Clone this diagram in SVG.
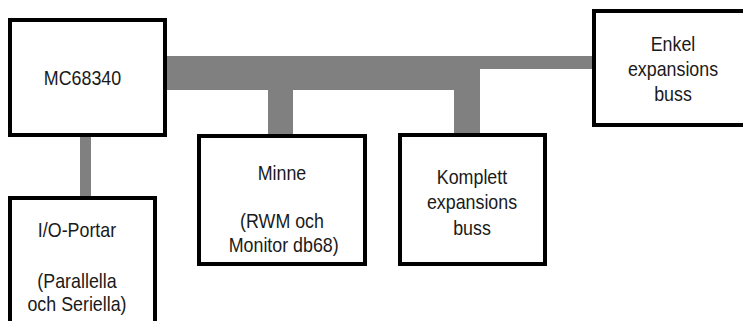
<svg xmlns="http://www.w3.org/2000/svg" width="743" height="321" viewBox="0 0 743 321">
<style>
.box{fill:#fff;stroke:#000;stroke-width:4}
.bus{fill:#808080;stroke:none}
text{font-family:"Liberation Sans",Arial,sans-serif;font-size:21px;fill:#1a1a1a;text-anchor:middle}
</style>
<rect width="743" height="321" fill="#fff"/>
<g id="connectors">
<path class="bus" d="M167,56 H594 V69 H480 V135 H454 V90 H293 V136 H268 V90 H167 Z"/>
<rect class="bus" x="80" y="137" width="11" height="61"/>
</g>
<g id="mc68340">
<rect class="box" x="10" y="20" width="155" height="115"/>
<g transform="matrix(0.85 0 0 1 82.5 0)"><text x="0" y="85">MC68340</text></g>
</g>
<g id="enkel">
<rect class="box" x="594" y="11" width="158" height="114"/>
<g transform="matrix(0.85 0 0 1 673 0)">
<text x="0" y="51">Enkel</text>
<text x="0" y="76">expansions</text>
<text x="0" y="101">buss</text>
</g>
</g>
<g id="minne">
<rect class="box" x="199" y="136" width="166" height="128"/>
<g transform="matrix(0.85 0 0 1 282 0)">
<text x="0" y="180">Minne</text>
<text x="0" y="228">(RWM och</text>
<text x="2" y="252">Monitor db68)</text>
</g>
</g>
<g id="komplett">
<rect class="box" x="400" y="135" width="145" height="129"/>
<g transform="matrix(0.85 0 0 1 472 0)">
<text x="0" y="184">Komplett</text>
<text x="0" y="209.5">expansions</text>
<text x="0" y="235">buss</text>
</g>
</g>
<g id="io">
<rect class="box" x="10" y="198" width="145" height="140"/>
<g transform="matrix(0.85 0 0 1 77 0)">
<text x="0" y="237">I/O-Portar</text>
<text x="0" y="288">(Parallella</text>
<text x="0" y="311">och Seriella)</text>
</g>
</g>
</svg>
